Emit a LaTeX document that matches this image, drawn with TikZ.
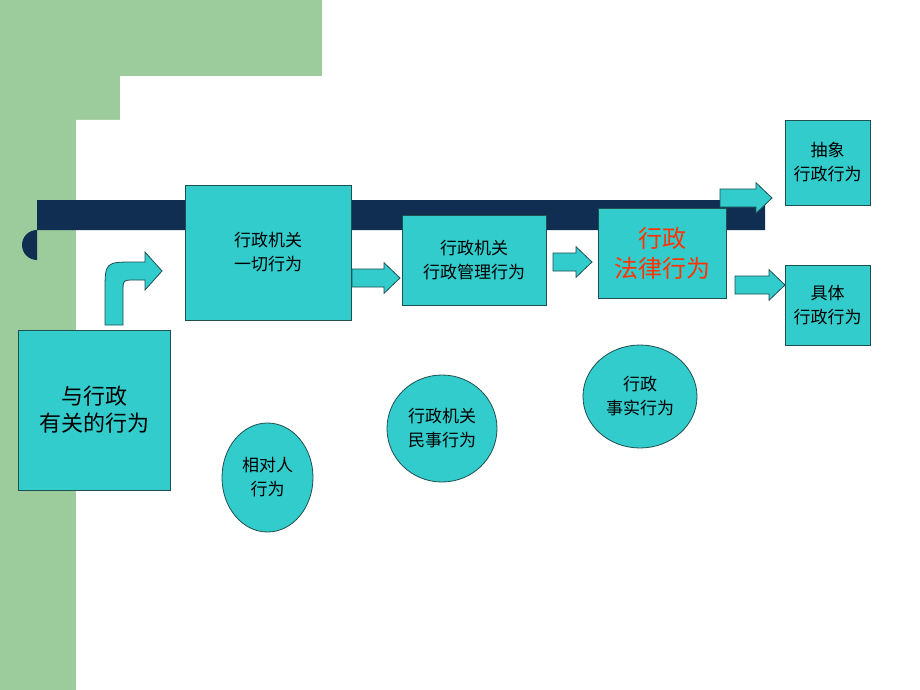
\documentclass[tikz,border=0pt]{standalone}
\usepackage{fontspec}
\setmainfont{Noto Sans CJK SC}
\definecolor{bggreen}{HTML}{9CCB9C}
\definecolor{navy}{HTML}{0F2E52}
\definecolor{tq}{HTML}{33CCCC}
\definecolor{edge}{HTML}{1F4F4F}
\definecolor{redtxt}{HTML}{FF3300}
\tikzset{x=1pt,y=-1pt,
 box/.style={draw=edge,fill=tq,line width=0.8pt,align=center,inner sep=0pt},
 oval/.style={ellipse,draw=edge,fill=tq,line width=0.8pt,align=center,inner sep=0pt},
 blk/.style={draw=edge,fill=tq,line width=0.8pt,line join=miter}}
\usetikzlibrary{shapes.geometric}
\newcommand\blkarrow[4]{\filldraw[blk] (#1,#3-#4) -- (#2-16,#3-#4) -- (#2-16,#3-1.7*#4) -- (#2,#3) -- (#2-16,#3+1.7*#4) -- (#2-16,#3+#4) -- (#1,#3+#4) -- cycle;}
\begin{document}
\begin{tikzpicture}
\useasboundingbox (0,0) rectangle (920,690);
\fill[white] (0,0) rectangle (920,690);
\fill[bggreen] (0,0) rectangle (322,76);
\fill[bggreen] (0,0) rectangle (76,690);
\fill[bggreen] (76,76) rectangle (120,120);
\fill[white] (76,120) arc[start angle=180,end angle=90,radius=44] -- (322,76) -- (322,120) -- cycle;
\fill[white] (76,120) rectangle (322,690);
\fill[navy] (37,200) -- (765,200) -- (765,230) -- (37,230) arc[start angle=270,end angle=90,radius=15] -- cycle;
\node[box,minimum width=152,minimum height=160,font=\fontsize{22}{27}\selectfont] (rel) at (94,410) {与行政\\有关的行为};
\node[box,minimum width=166,minimum height=135,font=\fontsize{17}{24}\selectfont] (all) at (268,252.5) {行政机关\\一切行为};
\node[box,minimum width=144,minimum height=90,font=\fontsize{17}{24}\selectfont] (adm) at (474,260) {行政机关\\行政管理行为};
\node[box,minimum width=128,minimum height=90,text=redtxt,font=\fontsize{24}{30}\selectfont] (law) at (662,253) {行政\\法律行为};
\node[box,minimum width=85,minimum height=85,font=\fontsize{17}{24}\selectfont] (abs) at (827.5,162.5) {抽象\\行政行为};
\node[box,minimum width=85,minimum height=80,font=\fontsize{17}{24}\selectfont] (con) at (827.5,305) {具体\\行政行为};
\node[oval,minimum width=91,minimum height=109,font=\fontsize{17}{24}\selectfont] (rp) at (267.5,477.5) {相对人\\行为};
\node[oval,minimum width=110,minimum height=107,font=\fontsize{17}{24}\selectfont] (civ) at (442,428.5) {行政机关\\民事行为};
\node[oval,minimum width=114,minimum height=103,font=\fontsize{17}{24}\selectfont] (fact) at (640,396.5) {行政\\事实行为};
\filldraw[blk] (105,325) -- (105,292) .. controls (105,262) .. (135,262) -- (145,262) -- (145,252) -- (162,271) -- (145,290) -- (145,280) -- (135,280) .. controls (123,280) .. (123,292) -- (123,325) -- cycle;
\blkarrow{352}{400}{278}{9}
\blkarrow{553}{592}{262}{9}
\blkarrow{720}{772}{198}{9}
\blkarrow{735}{785}{285}{9}
\end{tikzpicture}
\end{document}
